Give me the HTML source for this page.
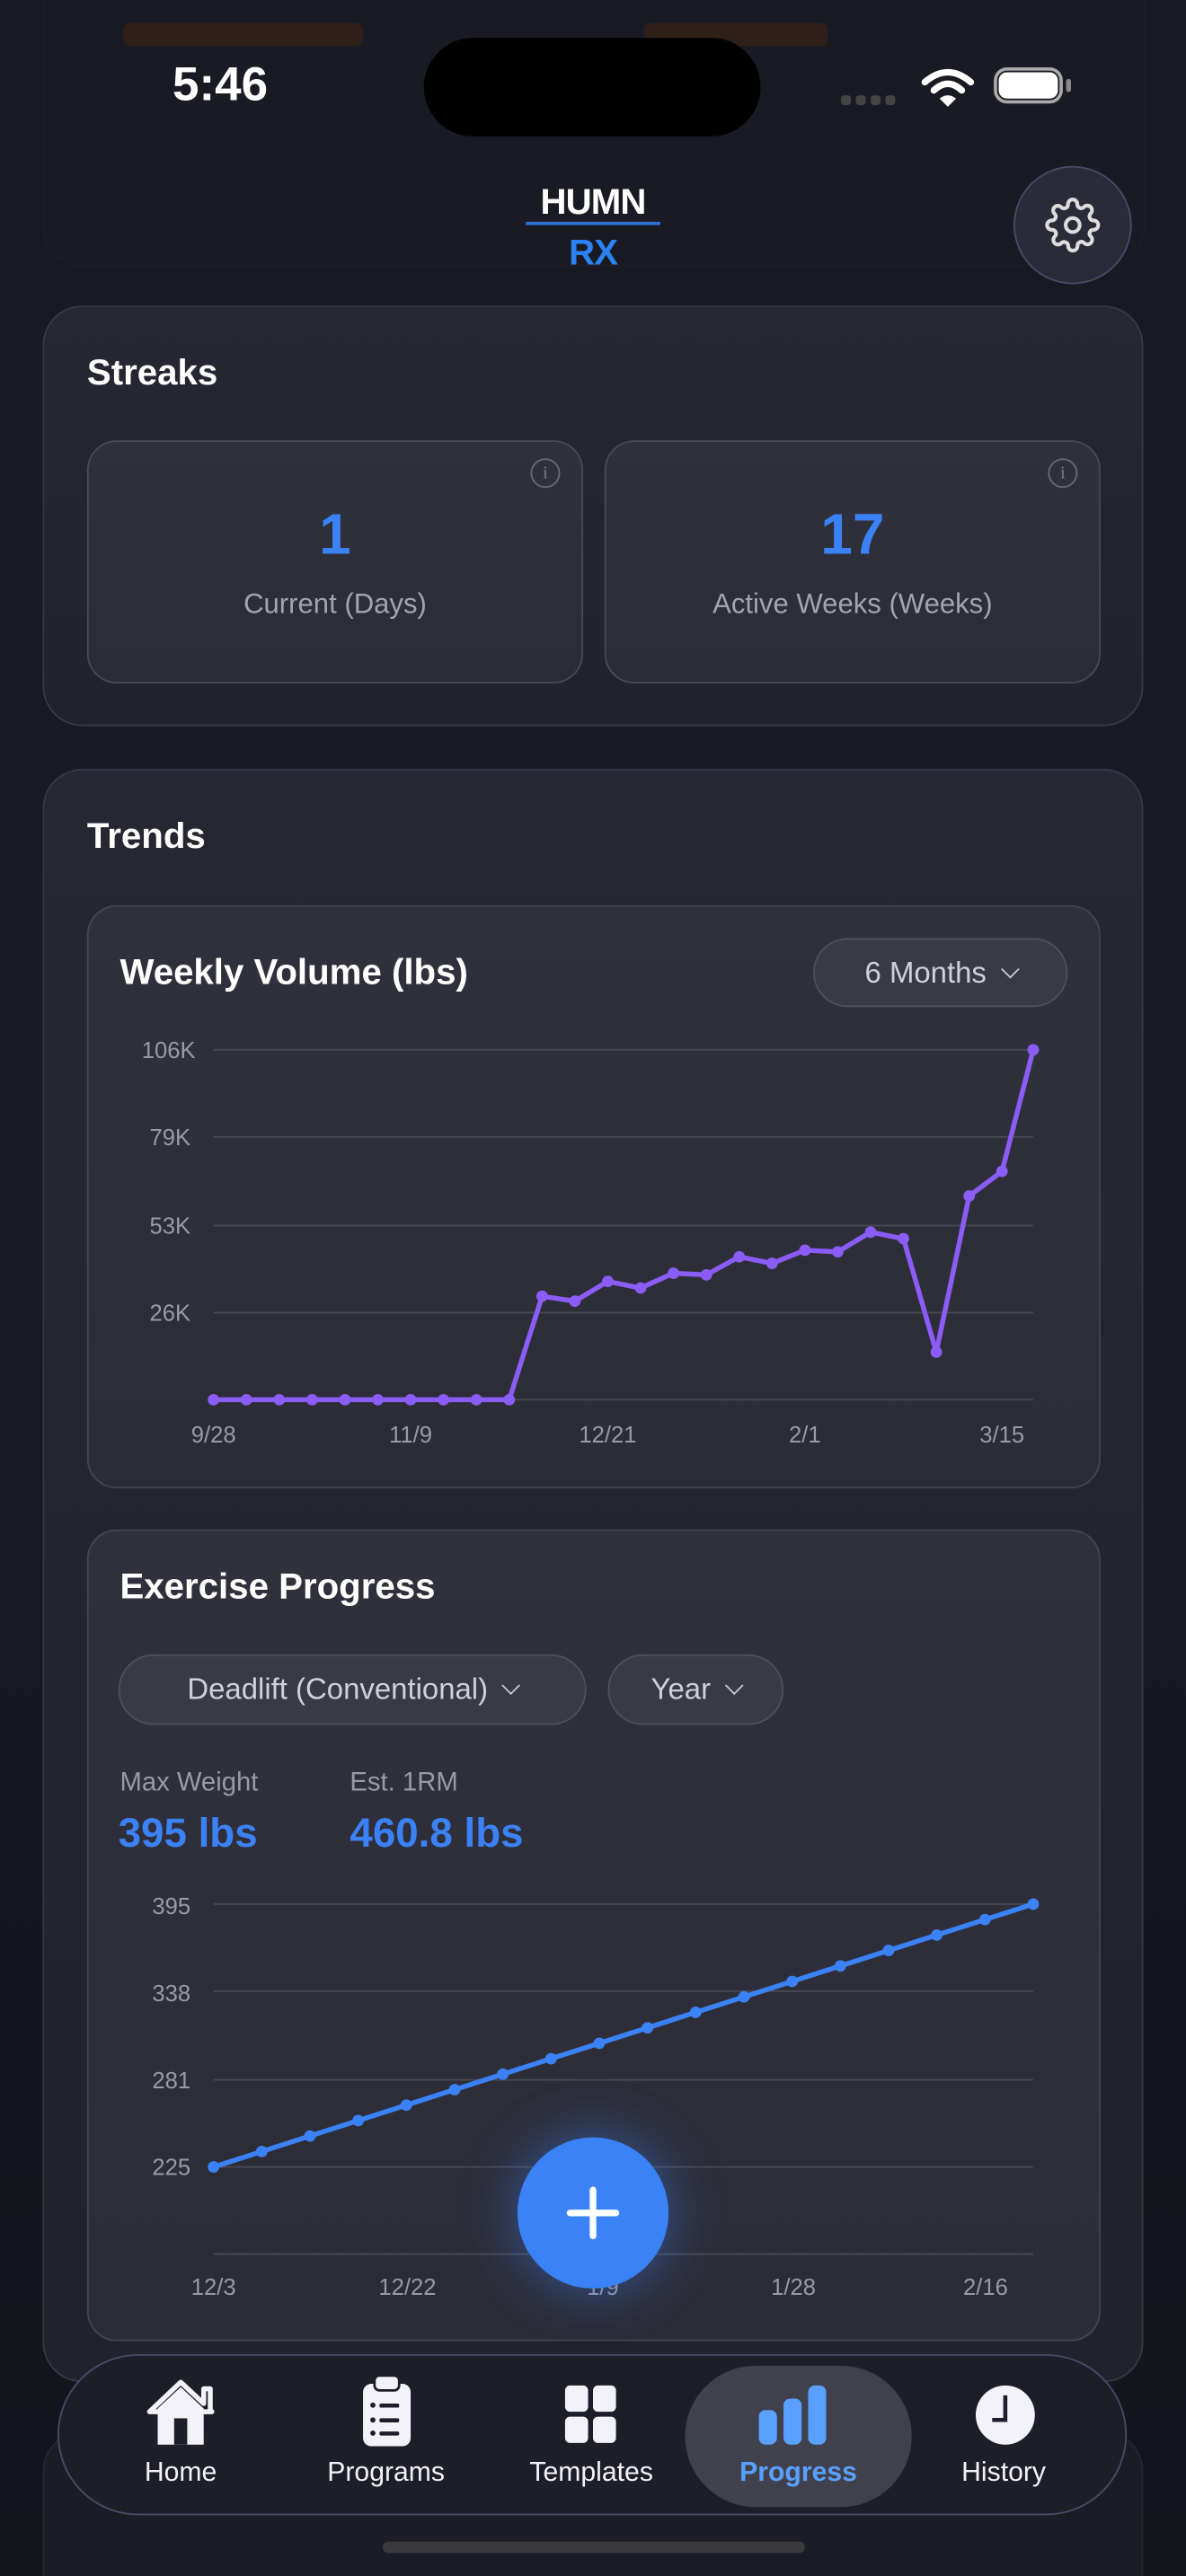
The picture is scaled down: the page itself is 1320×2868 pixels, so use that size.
<!DOCTYPE html>
<html><head><meta charset="utf-8"><style>
html,body{margin:0;padding:0;width:1320px;height:2868px;overflow:hidden;background:#15151e;}
#s{position:absolute;left:0;top:0;width:722px;height:1568px;transform:scale(1.82825,1.8291);transform-origin:0 0;background:linear-gradient(180deg,#191924 0%,#1a1a26 40%,#14141d 100%);font-family:"Liberation Sans",sans-serif;color:#fff;overflow:hidden}
.a{position:absolute}
.card{position:absolute;border-radius:24px;background:linear-gradient(180deg,#272733,#22222c);border:1.5px solid #383846}
.sub{position:absolute;border-radius:18px;background:linear-gradient(180deg,#31313d,#2c2c37);border:1.5px solid #4a4a56}
.pill{position:absolute;border-radius:22px;background:#3a3a46;border:1.5px solid #50505c;color:#d0d0d8;font-size:18px;box-sizing:border-box;display:flex;align-items:center;justify-content:center}
.lbl{font-size:17px;color:#a4a4b0;text-align:center;position:absolute}
.nav{font-size:16.5px;position:absolute;text-align:center;width:120px}
.chev{display:inline-block;width:7px;height:7px;border-right:1.5px solid #c8c8d0;border-bottom:1.5px solid #c8c8d0;transform:rotate(45deg);margin:-5px 0 0 10px}
</style></head><body><div id="s">
<!-- faded background card top -->
<div class="a" style="left:26px;top:-40px;width:669px;height:200px;border-radius:24px;background:#1b1b25;border:1px solid #20202b;opacity:.6"></div>
<div class="a" style="left:75px;top:14px;width:146px;height:14px;background:#2e2019;border-radius:4px"></div>
<div class="a" style="left:392px;top:14px;width:112px;height:14px;background:#2e2019;border-radius:4px"></div>
<!-- status -->
<div class="a" style="left:105px;top:36px;font-size:29px;font-weight:bold">5:46</div>
<div class="a" style="left:258px;top:23px;width:205px;height:60px;border-radius:30px;background:#000"></div>
<div class="a" style="left:512px;top:58px;width:36px;height:6px;display:flex;gap:3px"><i style="width:6px;height:6px;background:#444;border-radius:2px"></i><i style="width:6px;height:6px;background:#444;border-radius:2px"></i><i style="width:6px;height:6px;background:#444;border-radius:2px"></i><i style="width:6px;height:6px;background:#444;border-radius:2px"></i></div>
<svg class="a" style="left:560px;top:40px" width="34" height="26" viewBox="0 0 34 26"><path d="M3 10 Q17 -2 31 10" stroke="#fff" stroke-width="4" fill="none" stroke-linecap="round"/><path d="M8.5 15 Q17 7 25.5 15" stroke="#fff" stroke-width="4" fill="none" stroke-linecap="round"/><path d="M12 20 L17 25 L22 20 Q17 16 12 20Z" fill="#fff"/></svg>
<div class="a" style="left:605px;top:41px;width:42px;height:22px;border:2px solid #aaa;border-radius:8px;box-sizing:border-box"></div>
<div class="a" style="left:608px;top:44px;width:36px;height:16px;background:#fff;border-radius:5px"></div>
<div class="a" style="left:649px;top:48px;width:3px;height:8px;background:#888;border-radius:2px"></div>
<!-- logo -->
<div class="a" style="left:318px;top:110px;width:86px;text-align:center;font-size:22px;font-weight:bold;letter-spacing:-0.5px">HUMN</div>
<div class="a" style="left:320px;top:135px;width:82px;height:2px;background:#2d6fd6"></div>
<div class="a" style="left:318px;top:141px;width:86px;text-align:center;font-size:22px;font-weight:bold;color:#2a83f0;letter-spacing:-0.5px">RX</div>
<!-- gear -->
<div class="a" style="left:617px;top:101px;width:70px;height:70px;border-radius:50%;background:#2a2a38;border:1.5px solid #4a4a66"></div>
<svg class="a" style="left:636px;top:120px" width="34" height="34" viewBox="0 0 24 24" fill="none" stroke="#ddd" stroke-width="1.6"><circle cx="12" cy="12" r="3"/><path d="M19.4 15a1.65 1.65 0 0 0 .33 1.82l.06.06a2 2 0 1 1-2.830 2.83l-.06-.06a1.65 1.65 0 0 0-1.82-.33 1.65 1.65 0 0 0-1 1.51V21a2 2 0 1 1-4 0v-.09A1.65 1.65 0 0 0 9 19.4a1.650 1.65 0 0 0-1.82.33l-.06.06a2 2 0 1 1-2.83-2.83l.06-.06A1.65 1.65 0 0 0 4.68 15a1.65 1.65 0 0 0-1.51-1H3a2 2 0 1 1 0-4h.09A1.65 1.65 0 0 0 4.6 9a1.65 1.65 0 0 0-.33-1.82l-.06-.06a2 2 0 1 1 2.83-2.83l.06.06A1.65 1.65 0 0 0 9 4.68a1.65 1.65 0 0 0 1-1.51V3a2 2 0 1 1 4 0v.09a1.65 1.65 0 0 0 1 1.51 1.65 1.65 0 0 0 1.82-.33l.06-.06a2 2 0 1 1 2.83 2.83l-.06.06A1.65 1.65 0 0 0 19.4 9a1.65 1.65 0 0 0 1.51 1H21a2 2 0 1 1 0 4h-.09a1.65 1.65 0 0 0-1.51 1z"/></svg>
<!-- Streaks -->
<div class="card" style="left:26px;top:186px;width:668px;height:254px"></div>
<div class="a" style="left:53px;top:214px;font-size:22px;font-weight:bold">Streaks</div>
<div class="sub" style="left:53px;top:268px;width:300px;height:146px"></div>
<div class="sub" style="left:368px;top:268px;width:300px;height:146px"></div>
<div class="a" style="left:323px;top:279px;width:16px;height:16px;border:1.5px solid #6a6a76;border-radius:50%;font-size:11px;color:#7a7a86;text-align:center;line-height:16px;font-family:'Liberation Serif',serif">i</div>
<div class="a" style="left:638px;top:279px;width:16px;height:16px;border:1.5px solid #6a6a76;border-radius:50%;font-size:11px;color:#7a7a86;text-align:center;line-height:16px;font-family:'Liberation Serif',serif">i</div>
<div class="a" style="left:53px;top:306px;width:302px;text-align:center;font-size:35px;font-weight:bold;color:#3b82f6">1</div>
<div class="a" style="left:368px;top:306px;width:302px;text-align:center;font-size:35px;font-weight:bold;color:#3b82f6">17</div>
<div class="lbl" style="left:53px;top:358px;width:302px">Current (Days)</div>
<div class="lbl" style="left:368px;top:358px;width:302px">Active Weeks (Weeks)</div>
<!-- Trends -->
<div class="card" style="left:26px;top:468px;width:668px;height:980px"></div>
<div class="a" style="left:53px;top:496px;font-size:22px;font-weight:bold">Trends</div>
<div class="sub" style="left:53px;top:551px;width:615px;height:353px;border-color:#45454f"></div>
<div class="a" style="left:73px;top:579px;font-size:22px;font-weight:bold">Weekly Volume (lbs)</div>
<div class="pill" style="left:495px;top:571px;width:155px;height:42px">6 Months<span class="chev"></span></div>
<svg class="a" style="left:0;top:0" width="722" height="1568">
<g stroke="#4a4a56" stroke-width="1"><line x1="130" x2="629" y1="639" y2="639"/><line x1="130" x2="629" y1="692" y2="692"/><line x1="130" x2="629" y1="746" y2="746"/><line x1="130" x2="629" y1="799" y2="799"/><line x1="130" x2="629" y1="852" y2="852"/></g>
<g font-family="Liberation Sans" font-size="14" fill="#9a9aa6" text-anchor="end"><text x="119" y="644">106K</text><text x="116" y="697">79K</text><text x="116" y="751">53K</text><text x="116" y="804">26K</text></g>
<g font-family="Liberation Sans" font-size="14" fill="#9a9aa6" text-anchor="middle"><text x="130" y="878">9/28</text><text x="250" y="878">11/9</text><text x="370" y="878">12/21</text><text x="490" y="878">2/1</text><text x="610" y="878">3/15</text></g>
<polyline fill="none" stroke="#8b5cf6" stroke-width="3" stroke-linejoin="round" points="130,852 150,852 170,852 190,852 210,852 230,852 250,852 270,852 290,852 310,852 330,789 350,792 370,780 390,784 410,775 430,776 450,765 470,769 490,761 510,762 530,750 550,754 570,823 590,728 610,713 629,639"/>
<g fill="#8b5cf6"><circle cx="130" cy="852" r="3.5"/><circle cx="150" cy="852" r="3.5"/><circle cx="170" cy="852" r="3.5"/><circle cx="190" cy="852" r="3.5"/><circle cx="210" cy="852" r="3.5"/><circle cx="230" cy="852" r="3.5"/><circle cx="250" cy="852" r="3.5"/><circle cx="270" cy="852" r="3.5"/><circle cx="290" cy="852" r="3.5"/><circle cx="310" cy="852" r="3.5"/><circle cx="330" cy="789" r="3.5"/><circle cx="350" cy="792" r="3.5"/><circle cx="370" cy="780" r="3.5"/><circle cx="390" cy="784" r="3.5"/><circle cx="410" cy="775" r="3.5"/><circle cx="430" cy="776" r="3.5"/><circle cx="450" cy="765" r="3.5"/><circle cx="470" cy="769" r="3.5"/><circle cx="490" cy="761" r="3.5"/><circle cx="510" cy="762" r="3.5"/><circle cx="530" cy="750" r="3.5"/><circle cx="550" cy="754" r="3.5"/><circle cx="570" cy="823" r="3.5"/><circle cx="590" cy="728" r="3.5"/><circle cx="610" cy="713" r="3.5"/><circle cx="629" cy="639" r="3.5"/></g>
</svg>
<!-- Exercise progress -->
<div class="sub" style="left:53px;top:931px;width:615px;height:492px;border-color:#45454f"></div>
<div class="a" style="left:73px;top:953px;font-size:22px;font-weight:bold">Exercise Progress</div>
<div class="pill" style="left:72px;top:1007px;width:285px;height:43px">Deadlift (Conventional)<span class="chev"></span></div>
<div class="pill" style="left:370px;top:1007px;width:107px;height:43px">Year<span class="chev"></span></div>
<div class="a" style="left:73px;top:1077px;font-size:16px;color:#9a9aa6">Max Weight</div>
<div class="a" style="left:213px;top:1077px;font-size:16px;color:#9a9aa6">Est. 1RM</div>
<div class="a" style="left:72px;top:1102px;font-size:25px;font-weight:bold;color:#3b82f6">395 lbs</div>
<div class="a" style="left:213px;top:1102px;font-size:25px;font-weight:bold;color:#3b82f6">460.8 lbs</div>
<svg class="a" style="left:0;top:0" width="722" height="1568">
<g stroke="#4a4a56" stroke-width="1"><line x1="130" x2="629" y1="1159" y2="1159"/><line x1="130" x2="629" y1="1212" y2="1212"/><line x1="130" x2="629" y1="1266" y2="1266"/><line x1="130" x2="629" y1="1319" y2="1319"/><line x1="130" x2="629" y1="1372" y2="1372"/></g>
<g font-family="Liberation Sans" font-size="14" fill="#9a9aa6" text-anchor="end"><text x="116" y="1165">395</text><text x="116" y="1218">338</text><text x="116" y="1271">281</text><text x="116" y="1324">225</text></g>
<g font-family="Liberation Sans" font-size="14" fill="#9a9aa6" text-anchor="middle"><text x="130" y="1397">12/3</text><text x="248" y="1397">12/22</text><text x="367" y="1397">1/9</text><text x="483" y="1397">1/28</text><text x="600" y="1397">2/16</text></g>
<line x1="130" y1="1319" x2="629" y2="1159" stroke="#3b82f6" stroke-width="3"/>
<g fill="#3b82f6" id="pts"></g>
</svg>
<!-- FAB -->
<div class="a" style="left:315px;top:1301px;width:92px;height:92px;border-radius:50%;background:#3b82f6;box-shadow:0 0 28px 6px rgba(59,130,246,.35)"></div>
<div class="a" style="left:345px;top:1345px;width:32px;height:4px;background:#fff;border-radius:2px"></div>
<div class="a" style="left:359px;top:1331px;width:4px;height:32px;background:#fff;border-radius:2px"></div>
<!-- faded card behind nav -->
<div class="a" style="left:26px;top:1480px;width:668px;height:120px;border-radius:24px;background:#1c1c26;border:1px solid #262632"></div>
<!-- nav -->
<div class="a" style="left:35px;top:1433px;width:651px;height:98px;border-radius:49px;background:rgba(30,30,42,.96);border:1.5px solid #4a4a68;box-sizing:border-box"></div>
<div class="a" style="left:417px;top:1440px;width:138px;height:86px;border-radius:43px;background:#41414e"></div>
<svg class="a" style="left:0;top:0" width="722" height="1568">
<path d="M91 1468 L110 1450 L124 1463 L124 1454 L128 1454 L128 1467 L129 1468 Z" fill="none" stroke="#f2f2f8" stroke-width="3" stroke-linejoin="round"/>
<path d="M96 1466 L110 1453 L124 1466 L124 1488 L96 1488 Z" fill="#f2f2f8"/><rect x="106" y="1472" width="8" height="16" fill="#1e1e2a"/>
<rect x="221" y="1451" width="29" height="38" rx="5" fill="#f2f2f8"/><rect x="228" y="1446" width="15" height="9" rx="3" fill="#f2f2f8" stroke="#1e1e2a" stroke-width="1.5"/>
<g fill="#1e1e2a"><circle cx="227" cy="1464" r="1.6"/><circle cx="227" cy="1473" r="1.6"/><circle cx="227" cy="1481" r="1.6"/><rect x="231" y="1463" width="12" height="2.5" rx="1"/><rect x="231" y="1472" width="12" height="2.5" rx="1"/><rect x="231" y="1480" width="12" height="2.5" rx="1"/></g>
<g fill="#f2f2f8"><rect x="344" y="1452" width="14" height="16" rx="3"/><rect x="361" y="1452" width="14" height="16" rx="3"/><rect x="344" y="1471" width="14" height="16" rx="3"/><rect x="361" y="1471" width="14" height="16" rx="3"/></g>
<g fill="#5aa0ff"><rect x="462" y="1467" width="11" height="21" rx="4"/><rect x="477" y="1460" width="11" height="28" rx="4"/><rect x="492" y="1452" width="11" height="36" rx="4"/></g>
<circle cx="612" cy="1470" r="18" fill="#f2f2f8"/><path d="M612 1458 L612 1473 L604 1473" fill="none" stroke="#1e1e2a" stroke-width="2.5"/>
</svg>
<div class="nav" style="left:50px;top:1496px;color:#f2f2f8">Home</div>
<div class="nav" style="left:175px;top:1496px;color:#f2f2f8">Programs</div>
<div class="nav" style="left:300px;top:1496px;color:#f2f2f8">Templates</div>
<div class="nav" style="left:426px;top:1496px;color:#5aa0ff;font-weight:bold">Progress</div>
<div class="nav" style="left:551px;top:1496px;color:#f2f2f8">History</div>
<div class="a" style="left:233px;top:1547px;width:257px;height:7px;border-radius:4px;background:#3a3a3e"></div>
</div>
<script>
var g=document.getElementById('pts'),s='';
for(var i=0;i<18;i++){var x=130+i*499/17,y=1319-i*160/17;s+='<circle cx="'+x+'" cy="'+y+'" r="3.5"/>';}
g.innerHTML=s;
</script>
</body></html>
